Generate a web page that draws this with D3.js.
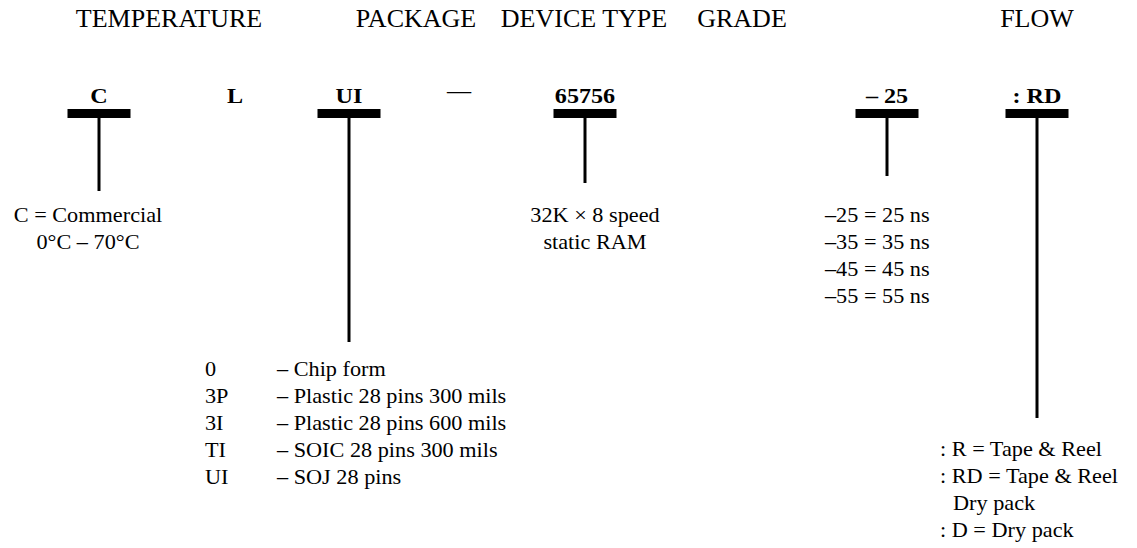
<!DOCTYPE html>
<html>
<head>
<meta charset="utf-8">
<script src="https://cdn.jsdelivr.net/npm/d3@7/dist/d3.min.js"></script>
<style>
  body { margin: 0; background: #fff; }
  text { font-family: "Liberation Serif", "Times New Roman", serif; fill: #000; }
</style>
</head>
<body>
<script>
// ordering information fields
var fieldNames = ["TEMPERATURE", "PACKAGE", "DEVICE TYPE", "GRADE", "FLOW"];
var codes = ["C", "L", "UI", "\u2014", "65756", "\u2013 25", ": RD"];
var barCodes = ["C", "UI", "65756", "\u2013 25", ": RD"];

var tempOptions = ["C = Commercial", "0\u00b0C \u2013 70\u00b0C"];
var deviceDesc = ["32K \u00d7 8 speed", "static RAM"];
var gradeOptions = ["\u201325 = 25 ns", "\u201335 = 35 ns", "\u201345 = 45 ns", "\u201355 = 55 ns"];
var packageCodes = ["0", "3P", "3I", "TI", "UI"];
var packageDesc = ["\u2013 Chip form", "\u2013 Plastic 28 pins 300 mils", "\u2013 Plastic 28 pins 600 mils", "\u2013 SOIC 28 pins 300 mils", "\u2013 SOJ 28 pins"];
var flowOptions = [": R = Tape & Reel", ": RD = Tape & Reel", "Dry pack", ": D = Dry pack"];

var width = 1137, height = 548;

var svg = d3.select("body").append("svg")
    .attr("width", width)
    .attr("height", height);

var xField = d3.scaleOrdinal().domain(fieldNames).range([169, 416, 584, 742, 1037]);
var xCode = d3.scaleOrdinal().domain(codes).range([99, 235, 349, 459, 585, 887, 1037]);
var stemEnd = d3.scaleOrdinal().domain(barCodes).range([191, 342, 183, 176, 418]);
var line = d3.scaleLinear().domain([0, 1]).range([0, 27]);

var barW = 63, barH = 9, barTop = 109, codeBase = 103;

// header row
svg.selectAll(".field")
  .data(fieldNames)
  .enter().append("text")
  .attr("class", "field")
  .attr("x", function(d) { return xField(d); })
  .attr("y", 27)
  .attr("text-anchor", "middle")
  .style("font-size", "26px")
  .text(function(d) { return d; });

// code letters
svg.selectAll(".code")
  .data(codes)
  .enter().append("text")
  .attr("class", "code")
  .attr("transform", function(d) { return "translate(" + xCode(d) + "," + (d == "\u2014" ? 98 : codeBase) + ") scale(1.15,1)"; })
  .attr("text-anchor", "middle")
  .style("font-size", "21px")
  .style("font-weight", function(d) { return d == "\u2014" ? "normal" : "bold"; })
  .text(function(d) { return d; });

// T bars and stems
svg.selectAll(".bar")
  .data(barCodes)
  .enter().append("rect")
  .attr("class", "bar")
  .attr("x", function(d) { return xCode(d) - barW / 2; })
  .attr("y", barTop)
  .attr("width", barW)
  .attr("height", barH)
  .style("fill", "#000");

svg.selectAll(".stem")
  .data(barCodes)
  .enter().append("line")
  .attr("class", "stem")
  .attr("x1", function(d) { return xCode(d); })
  .attr("x2", function(d) { return xCode(d); })
  .attr("y1", barTop + barH)
  .attr("y2", function(d) { return stemEnd(d); })
  .style("stroke", "#000")
  .style("stroke-width", 3);

function block(lines, x, y0, anchor, cls) {
  svg.selectAll("." + cls)
    .data(lines)
    .enter().append("text")
    .attr("class", cls)
    .attr("transform", function(d, i) { return "translate(" + (typeof x == "function" ? x(d, i) : x) + "," + (y0 + line(i)) + ") scale(1.06,1)"; })
    .attr("text-anchor", anchor)
    .style("font-size", "21px")
    .text(function(d) { return d; });
}

block(tempOptions, 88, 222, "middle", "temp");
block(deviceDesc, 595, 222, "middle", "dev");
block(gradeOptions, 825, 222, "start", "grade");
block(packageCodes, 205, 376, "start", "pkgcode");
block(packageDesc, 277, 376, "start", "pkgdesc");
block(flowOptions, function(d) { return d.charAt(0) == ":" ? 940 : 953; }, 456, "start", "flow");
</script>
</body>
</html>
